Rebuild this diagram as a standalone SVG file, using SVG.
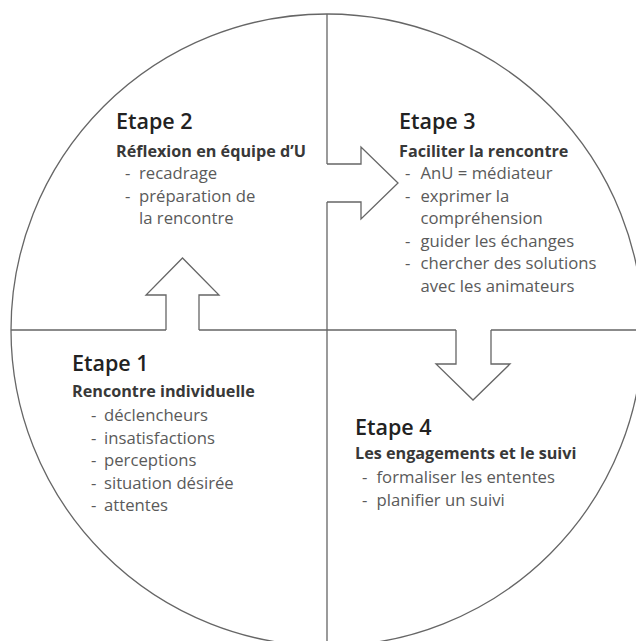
<svg xmlns="http://www.w3.org/2000/svg" width="636" height="641" viewBox="0 0 636 641">
  <style>
    .frame { fill: none; stroke: #666; stroke-width: 1.3; }
    .arrow { fill: #fff; stroke: #666; stroke-width: 1.3; stroke-linejoin: miter; }
    text { font-family: "Open Sans", "Noto Sans", "Liberation Sans", sans-serif; }
    .title { font-size: 21.5px; font-weight: 600; fill: #222; }
    .sub { font-size: 16.2px; font-weight: 700; fill: #383838; }
    .item { font-size: 16.7px; font-weight: 400; fill: #5a5a5a; }
  </style>
  <rect width="636" height="641" fill="#fff"/>

  <!-- outer circle -->
  <circle class="frame" cx="327" cy="330" r="316"/>

  <!-- quadrant dividers, opened where the arrow shafts join them -->
  <g id="dividers">
    <path class="frame" d="M11 330 H166 M199 330 H456 M491 330 H636"/>
    <path class="frame" d="M327 14 V164 M327 202 V641"/>
  </g>

  <g id="connectors">
    <!-- Etape 1 to Etape 2 -->
    <path class="arrow" d="M166 330 V295 H146 L182.5 258 L219 295 H199 V330"/>
    <!-- Etape 2 to Etape 3 -->
    <path class="arrow" d="M327 164 H361 V147 L398 183 L361 219 V202 H327"/>
    <!-- Etape 3 to Etape 4 -->
    <path class="arrow" d="M456 330 V364 H436 L473 400 L510 364 H491 V330"/>
  </g>

  <g id="etape2">
    <text class="title" x="116" y="129">Etape 2</text>
    <text class="sub" x="116" y="157">Réflexion en équipe d’U</text>
    <text class="item" x="125" y="179">-</text>
    <text class="item" x="139" y="179">recadrage</text>
    <text class="item" x="125" y="201.5">-</text>
    <text class="item" x="139" y="201.5">préparation de</text>
    <text class="item" x="139" y="224">la rencontre</text>
  </g>

  <g id="etape3">
    <text class="title" x="399" y="129">Etape 3</text>
    <text class="sub" x="399" y="157">Faciliter la rencontre</text>
    <text class="item" x="405" y="179">-</text>
    <text class="item" x="420.5" y="179">AnU = médiateur</text>
    <text class="item" x="405" y="201.5">-</text>
    <text class="item" x="420.5" y="201.5">exprimer la</text>
    <text class="item" x="420.5" y="224">compréhension</text>
    <text class="item" x="405" y="246.5">-</text>
    <text class="item" x="420.5" y="246.5">guider les échanges</text>
    <text class="item" x="405" y="269">-</text>
    <text class="item" x="420.5" y="269">chercher des solutions</text>
    <text class="item" x="420.5" y="291.5">avec les animateurs</text>
  </g>

  <g id="etape1">
    <text class="title" x="72" y="371">Etape 1</text>
    <text class="sub" x="72" y="397">Rencontre individuelle</text>
    <text class="item" x="91" y="421">-</text>
    <text class="item" x="104" y="421">déclencheurs</text>
    <text class="item" x="91" y="443.5">-</text>
    <text class="item" x="104" y="443.5">insatisfactions</text>
    <text class="item" x="91" y="466">-</text>
    <text class="item" x="104" y="466">perceptions</text>
    <text class="item" x="91" y="488.5">-</text>
    <text class="item" x="104" y="488.5">situation désirée</text>
    <text class="item" x="91" y="511">-</text>
    <text class="item" x="104" y="511">attentes</text>
  </g>

  <g id="etape4">
    <text class="title" x="355" y="435">Etape 4</text>
    <text class="sub" x="355" y="458.5">Les engagements et le suivi</text>
    <text class="item" x="362" y="482.5">-</text>
    <text class="item" x="376.5" y="482.5">formaliser les ententes</text>
    <text class="item" x="362" y="505.5">-</text>
    <text class="item" x="376.5" y="505.5">planifier un suivi</text>
  </g>
</svg>
